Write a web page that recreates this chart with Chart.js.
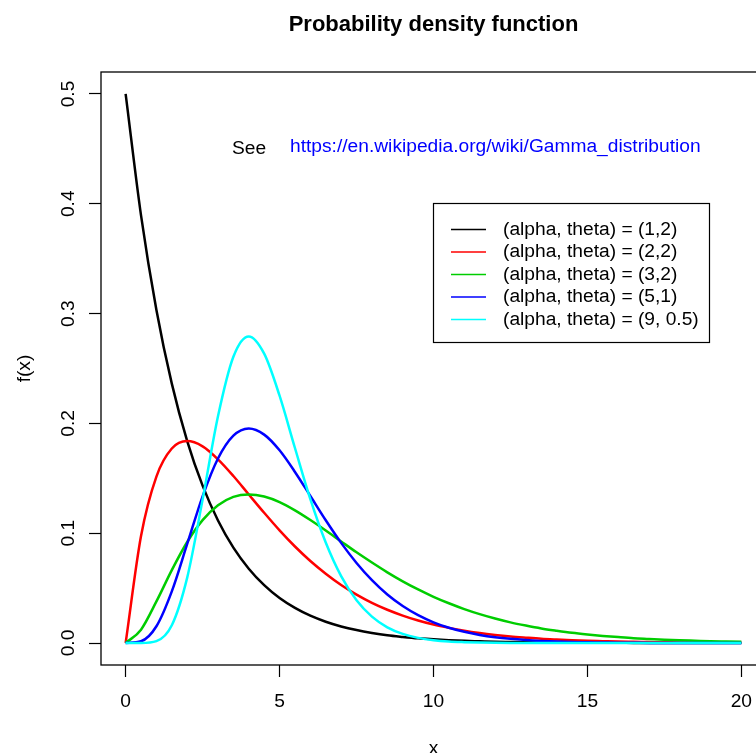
<!DOCTYPE html>
<html>
<head>
<meta charset="utf-8">
<script src="https://cdn.jsdelivr.net/npm/chart.js@4/dist/chart.umd.min.js"></script>
<style>
  html, body { margin: 0; padding: 0; background: #fff; overflow: hidden; }
  #wrap { width: 780px; height: 753px; }
</style>
</head>
<body>
<div id="wrap"><canvas id="pdf" width="780" height="753"></canvas></div>
<script>
// values
const xs = [0, 0.5, 1, 1.5, 2, 2.5, 3, 3.5, 4, 4.5, 5, 5.5, 6, 6.5, 7, 7.5, 8, 8.5, 9, 9.5, 10,
  10.5, 11, 11.5, 12, 12.5, 13, 13.5, 14, 14.5, 15, 15.5, 16, 16.5, 17, 17.5, 18, 18.5, 19, 19.5, 20];

const black = [0.5, 0.3894, 0.3033, 0.2362, 0.1839, 0.1433, 0.1116, 0.0869, 0.0677, 0.0527, 0.0410,
  0.0320, 0.0249, 0.0194, 0.0151, 0.0118, 0.0092, 0.0071, 0.0056, 0.0043, 0.0034,
  0.0026, 0.0020, 0.0016, 0.0012, 0.0010, 0.0008, 0.0006, 0.0005, 0.0004, 0.0003,
  0.0002, 0.0002, 0.0001, 0.0001, 0.0001, 0.0001, 0, 0, 0, 0];
const red = [0, 0.0974, 0.1516, 0.1771, 0.1839, 0.1791, 0.1673, 0.1521, 0.1353, 0.1186, 0.1026,
  0.0879, 0.0747, 0.0631, 0.0528, 0.0441, 0.0366, 0.0303, 0.0250, 0.0205, 0.0168,
  0.0138, 0.0112, 0.0091, 0.0074, 0.0060, 0.0049, 0.0039, 0.0032, 0.0026, 0.0021,
  0.0017, 0.0013, 0.0011, 0.0009, 0.0007, 0.0006, 0.0004, 0.0004, 0.0003, 0.0002];
const green = [0, 0.0122, 0.0379, 0.0664, 0.0920, 0.1119, 0.1255, 0.1331, 0.1353, 0.1334, 0.1283,
  0.1208, 0.1120, 0.1025, 0.0925, 0.0826, 0.0733, 0.0644, 0.0562, 0.0488, 0.0421,
  0.0362, 0.0309, 0.0263, 0.0223, 0.0188, 0.0159, 0.0133, 0.0112, 0.0093, 0.0078,
  0.0065, 0.0054, 0.0044, 0.0037, 0.0030, 0.0025, 0.0021, 0.0017, 0.0014, 0.0011];
const blue = [0, 0.0016, 0.0153, 0.0471, 0.0902, 0.1336, 0.1680, 0.1888, 0.1954, 0.1898, 0.1755,
  0.1558, 0.1339, 0.1118, 0.0912, 0.0729, 0.0572, 0.0442, 0.0337, 0.0254, 0.0189,
  0.0139, 0.0102, 0.0074, 0.0053, 0.0038, 0.0027, 0.0019, 0.0013, 0.0009, 0.0007,
  0.0005, 0.0003, 0.0002, 0.0001, 0.0001, 0.0001, 0, 0, 0, 0];
const cyan = [0, 0, 0.0017, 0.0162, 0.0596, 0.1306, 0.2065, 0.2607, 0.2792, 0.2635, 0.2252,
  0.1776, 0.1310, 0.0915, 0.0609, 0.0389, 0.0240, 0.0143, 0.0083, 0.0047, 0.0026,
  0.0014, 0.0008, 0.0004, 0.0002, 0.0001, 0.0001, 0, 0, 0, 0,
  0, 0, 0, 0, 0, 0, 0, 0, 0, 0];

const seriesLabels = ['(alpha, theta) = (1,2)', '(alpha, theta) = (2,2)', '(alpha, theta) = (3,2)',
  '(alpha, theta) = (5,1)', '(alpha, theta) = (9, 0.5)'];
const xTicks = [0, 5, 10, 15, 20];
const yTicks = [0, 0.1, 0.2, 0.3, 0.4, 0.5];

const COLORS = ['#000000', '#FF0000', '#00CD00', '#0000FF', '#00FFFF'];
const FONT = '"Liberation Sans", Arial, Helvetica, sans-serif';

const series = [black, red, green, blue, cyan];

// ── R-style decorations: box, labels, legend ─────────────────────
const rDecor = {
  id: 'rDecor',
  afterDraw(chart) {
    const ctx = chart.ctx;
    const area = chart.chartArea;
    const xs_ = chart.scales.x;
    const ys_ = chart.scales.y;
    ctx.save();

    // plot box
    ctx.strokeStyle = '#000';
    ctx.lineWidth = 1.3;
    ctx.strokeRect(area.left, area.top, area.right - area.left, area.bottom - area.top);

    ctx.fillStyle = '#000';
    ctx.font = '19.2px ' + FONT;

    // x tick labels
    ctx.textAlign = 'center';
    ctx.textBaseline = 'middle';
    xTicks.forEach(v => ctx.fillText(String(v), xs_.getPixelForValue(v), 702));

    // y tick labels (rotated like R las=0)
    yTicks.forEach(v => {
      ctx.save();
      ctx.translate(69, ys_.getPixelForValue(v));
      ctx.rotate(-Math.PI / 2);
      ctx.fillText(v.toFixed(1), 0, 0);
      ctx.restore();
    });

    // axis titles
    ctx.fillText('x', (area.left + area.right) / 2, 749);
    ctx.save();
    ctx.translate(25, (area.top + area.bottom) / 2);
    ctx.rotate(-Math.PI / 2);
    ctx.fillText('f(x)', 0, 0);
    ctx.restore();

    // main title
    ctx.font = 'bold 22px ' + FONT;
    ctx.fillText('Probability density function', (area.left + area.right) / 2, 25);

    // note text
    ctx.font = '19.2px ' + FONT;
    ctx.textAlign = 'left';
    ctx.fillText('See', 232, 149);
    ctx.fillStyle = '#0000FF';
    ctx.fillText('https://en.wikipedia.org/wiki/Gamma_distribution', 290, 147);

    // legend
    ctx.fillStyle = '#fff';
    ctx.fillRect(433, 203, 276, 139);
    ctx.strokeStyle = '#000';
    ctx.lineWidth = 1.2;
    ctx.strokeRect(433.5, 203.5, 276, 139);
    seriesLabels.forEach((lab, i) => {
      const y = 229.5 + i * 22.5;
      ctx.strokeStyle = COLORS[i];
      ctx.lineWidth = 1.5;
      ctx.beginPath();
      ctx.moveTo(451, y);
      ctx.lineTo(486, y);
      ctx.stroke();
      ctx.fillStyle = '#000';
      ctx.fillText(lab, 503, y);
    });

    ctx.restore();
  }
};

new Chart(document.getElementById('pdf'), {
  type: 'line',
  data: {
    labels: xs,
    datasets: series.map((vals, i) => ({
      label: seriesLabels[i],
      data: vals.map((v, j) => ({ x: xs[j], y: v })),
      borderColor: COLORS[i],
      borderWidth: 2.5,
      pointRadius: 0,
      fill: false,
      cubicInterpolationMode: 'monotone',
      order: 4 - i,
    })),
  },
  options: {
    responsive: false,
    animation: false,
    layout: { padding: { left: 0, right: 14, top: 72, bottom: 0 } },
    plugins: {
      legend: { display: false },
      title: { display: false },
      tooltip: { enabled: false },
    },
    scales: {
      x: {
        type: 'linear',
        min: -0.8,
        max: 20.8,
        afterBuildTicks: s => { s.ticks = xTicks.map(v => ({ value: v })); },
        afterFit: s => { s.height = 88; },
        ticks: { display: false },
        border: { display: false },
        grid: { drawOnChartArea: false, drawTicks: true, tickLength: 12, tickColor: '#000', tickWidth: 1.2 },
      },
      y: {
        type: 'linear',
        min: -0.02,
        max: 0.52,
        afterBuildTicks: s => { s.ticks = yTicks.map(v => ({ value: v })); },
        afterFit: s => { s.width = 101; },
        ticks: { display: false },
        border: { display: false },
        grid: { drawOnChartArea: false, drawTicks: true, tickLength: 12, tickColor: '#000', tickWidth: 1.2 },
      },
    },
  },
  plugins: [rDecor],
});
</script>
</body>
</html>
